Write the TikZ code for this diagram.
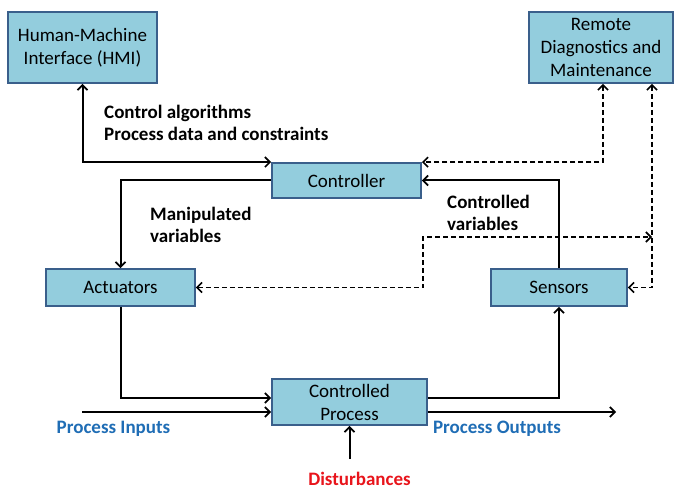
\documentclass[tikz,border=0pt]{standalone}
\usepackage{fontspec}
\setmainfont{Carlito}
\usetikzlibrary{arrows.meta}

\definecolor{boxfill}{RGB}{147,205,221}
\definecolor{boxline}{RGB}{58,95,139}
\definecolor{ioblue}{RGB}{31,109,181}
\definecolor{distred}{RGB}{232,20,27}

\tikzset{
  blk/.style={draw=boxline, fill=boxfill, line width=1.8pt, inner sep=0pt,
              align=center, font=\fontsize{19}{23}\selectfont},
  lbl/.style={inner sep=0pt, align=left, font=\fontsize{19}{22}\selectfont\bfseries},
  iolbl/.style={inner sep=0pt, font=\fontsize{19}{22}\selectfont\bfseries, text=ioblue},
  link/.style={line width=2pt, -{Straight Barb[length=5pt,width=10pt,line width=1.7pt]}},
  duplex/.style={line width=2pt, {Straight Barb[length=5pt,width=10pt,line width=1.7pt]}-{Straight Barb[length=5pt,width=10pt,line width=1.7pt]}},
  maint/.style={line width=1.7pt, dash pattern=on 5pt off 3pt,
    {Straight Barb[length=5pt,width=10pt,line width=1.6pt]}-{Straight Barb[length=5pt,width=10pt,line width=1.6pt]}},
}

\begin{document}
\begin{tikzpicture}[x=1pt, y=-1pt]
  \useasboundingbox (0,0) rectangle (675,489);

  % blocks
  \node[blk, minimum width=149pt, minimum height=71pt] (hmi) at (82.5,47.5) {Human-Machine\\Interface (HMI)};
  \node[blk, minimum width=144pt, minimum height=71pt] (rdm) at (601,47.5) {Remote\\Diagnostics and\\Maintenance};
  \node[blk, minimum width=149pt, minimum height=35pt] (ctrl) at (346.5,180.5) {Controller};
  \node[blk, minimum width=149pt, minimum height=37pt] (act) at (120.5,287.5) {Actuators};
  \node[blk, minimum width=136pt, minimum height=37pt] (sen) at (559,287.5) {Sensors};
  \node[blk, minimum width=155pt, minimum height=46pt] (proc) at (349.5,402) {Controlled\\Process};

  % free ends and bends
  \coordinate (inS) at (82,412);
  \coordinate (outE) at (616,412);
  \coordinate (dS) at (349.5,459);
  \coordinate (kink) at (423,237);
  \coordinate (tap) at (652,237);

  % control loop
  \draw[duplex] (hmi.south) |- (ctrl.north west);
  \draw[link] (ctrl.west) -| (act.north);
  \draw[link] (act.south) |- ([yshift=4pt]proc.west);
  \draw[link] (inS) -- (inS -| proc.west);
  \draw[link] ([yshift=4pt]proc.east) -| (sen.south);
  \draw[link] ([yshift=-10pt]proc.east) -- (outE);
  \draw[link] (sen.north) |- (ctrl.east);
  \draw[link] (dS) -- (proc.south);

  % remote maintenance links
  \draw[maint] ([xshift=2pt]rdm.south) |- (ctrl.north east);
  \draw[maint] ([xshift=51pt]rdm.south) |- (sen.east);
  \draw[maint] (act.east) -| (kink) -- (tap);

  % labels
  \node[lbl, anchor=west] (lalg) at (104,123) {Control algorithms\\Process data and constraints};
  \node[lbl, anchor=west] (lman) at (150,225) {Manipulated\\variables};
  \node[lbl, anchor=west] (lcv) at (447,213) {Controlled\\variables};
  \node[iolbl] (lin) at (113.5,429) {Process Inputs};
  \node[iolbl] (lout) at (497,429) {Process Outputs};
  \node[inner sep=0pt, font=\fontsize{19}{22}\selectfont\bfseries, text=distred] (ldist) at (359.5,479) {Disturbances};
\end{tikzpicture}
\end{document}
